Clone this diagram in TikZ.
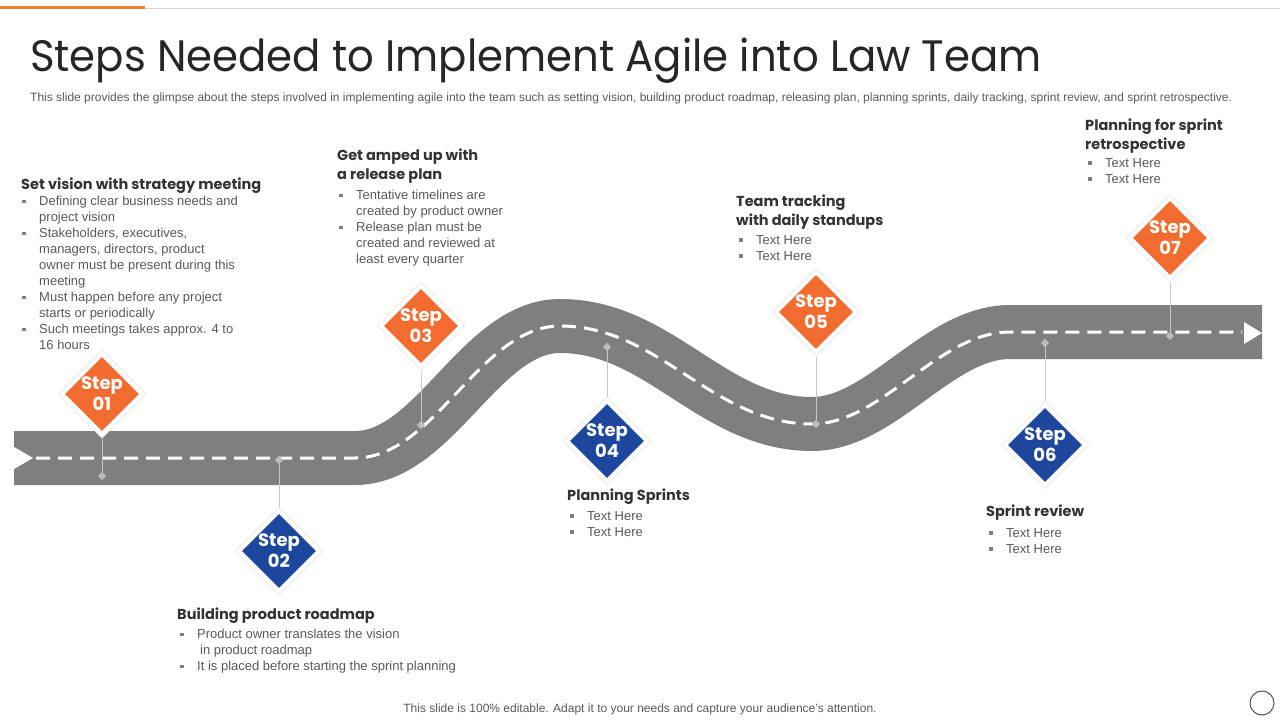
\documentclass[tikz,border=0pt]{standalone}
\usepackage{fontspec}
\setmainfont{Liberation Sans}
\newfontfamily\headfont{Poppins}
\usetikzlibrary{shapes.geometric}
\definecolor{orangeS}{HTML}{F26B2F}
\definecolor{blueS}{HTML}{1D479C}
\definecolor{roadgray}{HTML}{7F7F7F}
\definecolor{txtgray}{HTML}{595959}
\definecolor{headgray}{HTML}{333333}
\definecolor{titlegray}{HTML}{262626}
\definecolor{linegray}{HTML}{C8C8C8}
\definecolor{dotgray}{HTML}{BDBDBD}
\definecolor{bulgray}{HTML}{7F7F7F}
\definecolor{topline}{HTML}{ED7D31}
\definecolor{circ}{HTML}{44546A}
\newcommand{\bul}{\makebox[17pt][l]{\textcolor{bulgray}{\rule[2.5pt]{3.5pt}{3.5pt}}}}
\newcommand{\ind}{\hspace*{17pt}}
\tikzset{
  halo/.style={diamond, aspect=1, minimum width=88, minimum height=88, inner sep=0, fill=white, draw=black!7, line width=1},
  stepo/.style={diamond, aspect=1, minimum width=74, minimum height=74, inner sep=0, fill=orangeS},
  stepb/.style={diamond, aspect=1, minimum width=74, minimum height=74, inner sep=0, fill=blueS},
  steptext/.style={text=white, font=\headfont\bfseries\fontsize{18}{21}\selectfont, align=center, inner sep=0},
  dot/.style={diamond, aspect=1, minimum width=8, minimum height=8, inner sep=0, fill=dotgray},
  conn/.style={draw=linegray, line width=1},
  head/.style={anchor=north west, inner sep=0, align=left, text=headgray, font=\headfont\bfseries\fontsize{14.5}{19}\selectfont},
  list/.style={anchor=north west, inner sep=0, align=left, text=txtgray, font=\fontsize{13}{16}\selectfont},
}
\begin{document}
\begin{tikzpicture}[x=1pt,y=-1pt]
\useasboundingbox (0,0) rectangle (1280,720);
% top rule
\draw[topline, line width=3] (0,7) -- (145,7);
\draw[black!15, line width=1] (145,8) -- (1280,8);
% title
\node[anchor=base west, inner sep=0, text=titlegray, font=\headfont\fontsize{44}{50}\selectfont] (title) at (30,71) {\scalebox{0.951}[1]{Steps Needed to Implement Agile into Law Team}};
\node[anchor=base west, inner sep=0, text=txtgray, font=\fontsize{12}{14}\selectfont] (sub) at (30,101) {This slide provides the glimpse about the steps involved in implementing agile into the team such as setting vision, building product roadmap, releasing plan, planning sprints, daily tracking, sprint review, and sprint retrospective.};
% road
\draw[roadgray, line width=54, line join=round] (14,458) -- (355,458) .. controls (435,458) and (480,326) .. (560,326) .. controls (660,326) and (712,424) .. (812,424) .. controls (882,424) and (938,332) .. (1010,332) -- (1262,332);
\fill[white] (14,447) -- (33,458) -- (14,469) -- cycle;
\fill[white] (1244,322) -- (1262,333) -- (1244,344) -- cycle;
\draw[white, line width=3, dash pattern=on 14pt off 8pt] (36,458) -- (355,458) .. controls (435,458) and (480,326) .. (560,326) .. controls (660,326) and (712,424) .. (812,424) .. controls (882,424) and (938,332) .. (1010,332) -- (1242,332);
% dots
\node[dot] (d1) at (102,476) {};
\node[dot] (d2) at (279,460) {};
\node[dot] (d3) at (421,425) {};
\node[dot] (d4) at (607,347) {};
\node[dot] (d5) at (816,424) {};
\node[dot] (d6) at (1045,343) {};
\node[dot] (d7) at (1170,336) {};
% halos
\node[halo] (h1) at (102,394) {};
\node[halo] (h2) at (279,551) {};
\node[halo] (h3) at (421,326) {};
\node[halo] (h4) at (607,441) {};
\node[halo] (h5) at (816,312) {};
\node[halo] (h6) at (1045,445) {};
\node[halo] (h7) at (1170,238) {};
% connectors
\draw[conn] (h1.south) -- (d1.center);
\draw[conn] (h2.north) -- (d2.center);
\draw[conn] (h3.south) -- (d3.center);
\draw[conn] (h4.north) -- (d4.center);
\draw[conn] (h5.south) -- (d5.center);
\draw[conn] (h6.north) -- (d6.center);
\draw[conn] (h7.south) -- (d7.center);
\node[dot] (d1b) at (d1) {};
\node[dot] (d2b) at (d2) {};
\node[dot] (d3b) at (d3) {};
\node[dot] (d4b) at (d4) {};
\node[dot] (d5b) at (d5) {};
\node[dot] (d6b) at (d6) {};
\node[dot] (d7b) at (d7) {};
% step diamonds
\node[stepo] (s1) at (h1) {};
\node[stepb] (s2) at (h2) {};
\node[stepo] (s3) at (h3) {};
\node[stepb] (s4) at (h4) {};
\node[stepo] (s5) at (h5) {};
\node[stepb] (s6) at (h6) {};
\node[stepo] (s7) at (h7) {};
\node[steptext] (t1) at (s1) {Step\\01};
\node[steptext] (t2) at (s2) {Step\\02};
\node[steptext] (t3) at (s3) {Step\\03};
\node[steptext] (t4) at (s4) {Step\\04};
\node[steptext] (t5) at (s5) {Step\\05};
\node[steptext] (t6) at (s6) {Step\\06};
\node[steptext] (t7) at (s7) {Step\\07};
% text blocks
\node[head] (hd1) at (21,178) {Set vision with strategy  meeting};
\node[list] (l1) at (22,196) {\bul Defining clear business needs and\\ \ind project vision\\ \bul Stakeholders, executives,\\ \ind managers, directors, product\\ \ind owner must be present during this\\ \ind meeting\\ \bul Must happen before any project\\ \ind starts or periodically\\ \bul Such meetings takes approx. 4 to\\ \ind 16 hours};
\node[head] (hd2) at (337,149) {Get amped up with\\a release plan};
\node[list] (l2) at (339,190) {\bul Tentative timelines are\\ \ind created by product owner\\ \bul Release plan must be\\ \ind created and reviewed at\\ \ind least every quarter};
\node[head] (hd3) at (736,195) {Team tracking\\with daily standups};
\node[list] (l3) at (739,235) {\bul Text Here\\ \bul Text Here};
\node[head] (hd4) at (1085,119) {Planning for sprint\\retrospective};
\node[list] (l4) at (1088,158) {\bul Text Here\\ \bul Text Here};
\node[head] (hd5) at (177,608) {Building product roadmap};
\node[list] (l5) at (180,629) {\bul Product owner translates the vision\\ \ind\hspace*{3pt}in product roadmap\\ \bul It is placed before starting the sprint planning};
\node[head] (hd6) at (567,489) {Planning Sprints};
\node[list] (l6) at (570,511) {\bul Text Here\\ \bul Text Here};
\node[head] (hd7) at (986,505) {Sprint review};
\node[list] (l7) at (989,528) {\bul Text Here\\ \bul Text Here};
% footer
\node[anchor=base, inner sep=0, text=txtgray, font=\fontsize{12}{14}\selectfont] (foot) at (640,712) {This slide is 100\% editable. Adapt it to your needs and capture your audience's attention.};
\draw[circ, line width=1] (1262,703) circle (12);
\end{tikzpicture}
\end{document}
